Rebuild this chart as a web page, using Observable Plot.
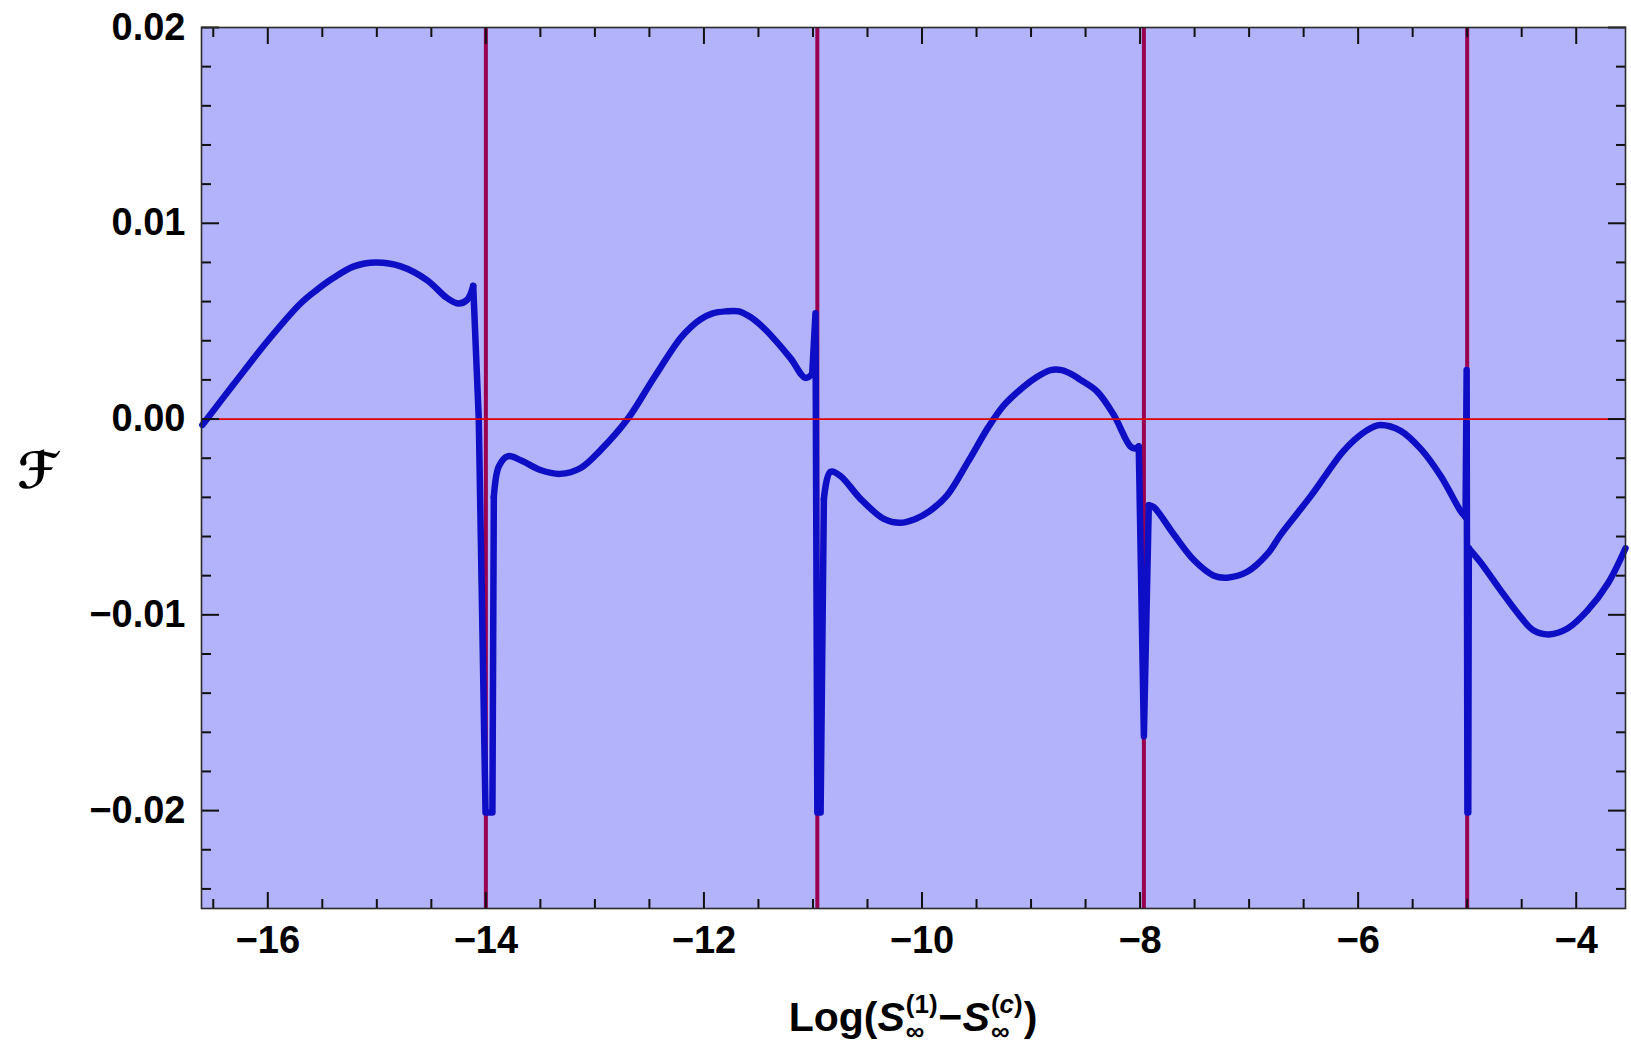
<!DOCTYPE html>
<html>
<head>
<meta charset="utf-8">
<script src="https://cdn.jsdelivr.net/npm/d3@7"></script>
<script src="https://cdn.jsdelivr.net/npm/@observablehq/plot@0.6"></script>
<style>
html, body { margin: 0; padding: 0; background: #ffffff; }
#chart svg { display: block; }
</style>
</head>
<body>
<div id="chart"></div>
<script>
// ---- data ----
const curveX = [
  -16.60, -16.31, -16.00, -15.70, -15.55, -15.40, -15.21, -15.01, -14.78, -14.54, -14.36, -14.25, -14.17,
  -14.116, -14.065, -14.003, -13.94, -13.927,
  -13.88, -13.80, -13.68, -13.50, -13.32, -13.13, -12.95, -12.70, -12.46, -12.22, -12.12, -12.03,
  -11.92, -11.80, -11.68, -11.57, -11.48, -11.39, -11.205, -11.07,
  -11.007, -10.977, -10.96, -10.93, -10.90,
  -10.84, -10.75, -10.56, -10.35, -10.20, -10.06, -9.93, -9.77, -9.58, -9.39, -9.25, -9.10,
  -8.96, -8.82, -8.72, -8.63, -8.546, -8.393, -8.24, -8.088, -8.042,
  -8.012, -7.965, -7.92,
  -7.874, -7.69, -7.507, -7.323, -7.20, -7.017, -6.834, -6.71, -6.57, -6.43, -6.29, -6.145,
  -6.00, -5.86, -5.795, -5.61, -5.43, -5.244, -5.06,
  -5.015, -5.005, -4.998, -4.99, -4.985,
  -4.88, -4.70, -4.51, -4.39, -4.25, -4.08, -3.90, -3.71, -3.548
];
const curveY = [
  -0.0003, 0.0018, 0.0040, 0.0059, 0.0066, 0.0072, 0.0078, 0.0080, 0.0078, 0.0071, 0.0062, 0.0059, 0.0061,
  0.0068, 0.0000, -0.0201, -0.0201, -0.0040,
  -0.0024, -0.0019, -0.0021, -0.0026, -0.0028, -0.0025, -0.0016, 0.0000, 0.0021, 0.0041, 0.0047, 0.0051,
  0.0054, 0.0055, 0.0055, 0.0052, 0.0048, 0.0043, 0.0031, 0.0021,
  0.0023, 0.0054, -0.0201, -0.0201, -0.0041,
  -0.0027, -0.0029, -0.0041, -0.0051, -0.0053, -0.0051, -0.0047, -0.0039, -0.0022, -0.0004, 0.0007, 0.0015,
  0.0021, 0.0025, 0.0025, 0.0023, 0.0020, 0.0014, 0.0002, -0.0014, -0.0015,
  -0.0014, -0.0162, -0.0044,
  -0.0045, -0.0059, -0.0072, -0.0080, -0.0081, -0.0078, -0.0069, -0.0059, -0.0049, -0.0039, -0.0028, -0.0017,
  -0.0009, -0.0004, -0.0003, -0.0006, -0.0015, -0.0029, -0.0047,
  -0.0050, 0.0025, -0.0201, -0.0201, -0.0066,
  -0.0073, -0.0087, -0.0101, -0.0108, -0.0110, -0.0107, -0.0098, -0.0084, -0.0066
];
// where the curve jumps (drawn with straight segments)
const jumpStartX = [-14.116, -11.007, -8.012, -5.015];
const jumpEndX = [-13.927, -10.90, -7.92, -4.985];
const poleX = [-14.0, -10.96, -7.965, -5.0];
const zeroLine = [0];
const xDomain = [-16.608, -3.548];
const yDomain = [-0.025, 0.02];
const xMajorTicks = [-16, -14, -12, -10, -8, -6, -4];
const xMinorTicks = [-16.5, -15.5, -15, -14.5, -13.5, -13, -12.5, -11.5, -11, -10.5, -9.5, -9, -8.5, -7.5, -7, -6.5, -5.5, -5, -4.5];
const yMajorTicks = [-0.02, -0.01, 0, 0.01, 0.02];
const yMinorTicks = [-0.024, -0.022, -0.018, -0.016, -0.014, -0.012, -0.008, -0.006, -0.004, -0.002,
                     0.002, 0.004, 0.006, 0.008, 0.012, 0.014, 0.016, 0.018];
const yTitle = "ℱ";

// split the curve into smooth branches and straight jump pieces
const pts = curveX.map((x, i) => ({x, y: curveY[i]}));
const smoothPts = [];
const jumpPts = [];
for (const p of pts) {
  const k = jumpStartX.findIndex((s, j) => p.x >= s && p.x <= jumpEndX[j]);
  if (k >= 0) jumpPts.push({...p, g: k});
  const inside = jumpStartX.some((s, j) => p.x > s && p.x < jumpEndX[j]);
  if (!inside) smoothPts.push({...p, g: jumpEndX.filter(e => p.x >= e).length});
}

const fmtX = d => (d < 0 ? "\u2212" : "") + Math.abs(d);
const fmtY = d => (d < 0 ? "\u2212" : "") + Math.abs(d).toFixed(2);

const FONT = "'Liberation Sans', Arial, Helvetica, sans-serif";
const tickColor = "#111";
const curveColor = "#0e0ec6";

const plot = Plot.plot({
  width: 1631,
  height: 1047,
  marginLeft: 201,
  marginRight: 6,
  marginTop: 27,
  marginBottom: 139,
  style: {font: `bold 38px ${FONT}`, background: "#ffffff", color: "#000"},
  x: {domain: xDomain, label: null},
  y: {domain: yDomain, label: null},
  marks: [
    Plot.frame({fill: "#b3b3fb", stroke: null}),
    Plot.ruleX(poleX, {stroke: "#990050", strokeWidth: 4}),
    Plot.line(smoothPts, {x: "x", y: "y", z: "g", stroke: curveColor, strokeWidth: 6.5, curve: "catmull-rom", strokeLinejoin: "round", strokeLinecap: "round"}),
    Plot.line(jumpPts, {x: "x", y: "y", z: "g", stroke: curveColor, strokeWidth: 6.5, curve: "linear", strokeLinejoin: "round", strokeLinecap: "round"}),
    Plot.ruleY(zeroLine, {stroke: "#dd0000", strokeWidth: 1.8}),
    // inward ticks, all four sides
    Plot.axisX({anchor: "bottom", ticks: xMinorTicks, tickSize: -9, tickFormat: () => "", strokeWidth: 2, stroke: tickColor, label: null}),
    Plot.axisX({anchor: "bottom", ticks: xMajorTicks, tickSize: -16, tickFormat: () => "", strokeWidth: 2, stroke: tickColor, label: null}),
    Plot.axisX({anchor: "top", ticks: xMinorTicks, tickSize: -9, tickFormat: () => "", strokeWidth: 2, stroke: tickColor, label: null}),
    Plot.axisX({anchor: "top", ticks: xMajorTicks, tickSize: -16, tickFormat: () => "", strokeWidth: 2, stroke: tickColor, label: null}),
    Plot.axisY({anchor: "left", ticks: yMinorTicks, tickSize: -10, tickFormat: () => "", strokeWidth: 2, stroke: tickColor, label: null}),
    Plot.axisY({anchor: "left", ticks: yMajorTicks, tickSize: -18, tickFormat: () => "", strokeWidth: 2, stroke: tickColor, label: null}),
    Plot.axisY({anchor: "right", ticks: yMinorTicks, tickSize: -10, tickFormat: () => "", strokeWidth: 2, stroke: tickColor, label: null}),
    Plot.axisY({anchor: "right", ticks: yMajorTicks, tickSize: -18, tickFormat: () => "", strokeWidth: 2, stroke: tickColor, label: null}),
    // tick labels
    Plot.axisX({anchor: "bottom", ticks: xMajorTicks, tickSize: 0, tickPadding: 18, tickFormat: fmtX, label: null, fill: "#000", fontSize: 38, fontWeight: "bold"}),
    Plot.axisY({anchor: "left", ticks: yMajorTicks, tickSize: 0, tickPadding: 16, tickFormat: fmtY, label: null, fill: "#000", fontSize: 38, fontWeight: "bold"}),
    Plot.frame({stroke: "#2a2a2a", strokeWidth: 1.6}),
    Plot.text([yTitle], {frameAnchor: "left", dx: -164, dy: 4, text: d => d, textAnchor: "middle",
      fontSize: 50, fontWeight: "bold", fontStyle: "italic", fontFamily: "'DejaVu Serif', 'DejaVu Sans', serif", fill: "#000"})
  ]
});

document.getElementById("chart").appendChild(plot);

// ---- x-axis title with stacked sub/superscripts ----
(function () {
  const svg = d3.select(plot);
  const xr = plot.scale("x").range;
  const cx = (xr[0] + xr[1]) / 2;
  const base = 1031;
  const big = 41, small = 26;
  const g = svg.append("g")
    .attr("font-family", FONT).attr("font-weight", "bold")
    .attr("fill", "#000").attr("text-anchor", "start");
  let x = 0;
  function run(parts, y, startX) {
    let xx = startX;
    for (const p of parts) {
      const t = g.append("text").attr("x", xx).attr("y", y).attr("font-size", p.size)
        .attr("text-anchor", "start")
        .attr("font-style", p.italic ? "italic" : "normal").text(p.s);
      xx += t.node().getComputedTextLength();
    }
    return xx - startX;
  }
  x += run([{s: "Log(", size: big}], base, x);
  x += run([{s: "S", size: big, italic: true}], base, x) + 1;
  let w1 = run([{s: "(1)", size: small}], base - 18, x);
  let w2 = run([{s: "\u221E", size: small}], base + 9, x);
  x += Math.max(w1, w2) + 1;
  x += run([{s: "\u2212", size: big}], base, x);
  x += run([{s: "S", size: big, italic: true}], base, x) + 1;
  w1 = run([{s: "(", size: small}, {s: "c", size: small, italic: true}, {s: ")", size: small}], base - 18, x);
  w2 = run([{s: "\u221E", size: small}], base + 9, x);
  x += Math.max(w1, w2) + 1;
  x += run([{s: ")", size: big}], base, x);
  g.attr("transform", `translate(${cx - x / 2},0)`);
})();
</script>
</body>
</html>
